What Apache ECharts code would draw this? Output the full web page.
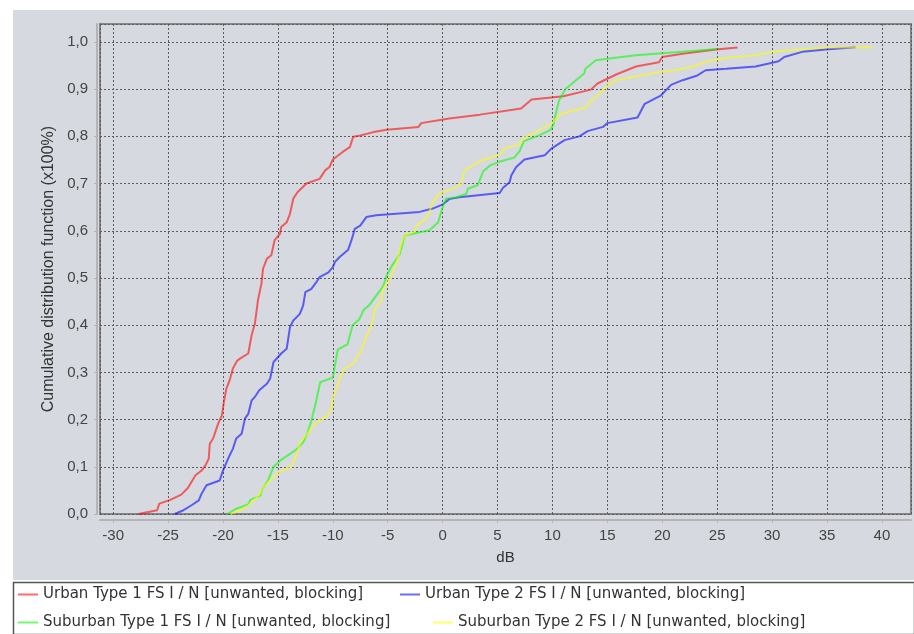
<!DOCTYPE html>
<html>
<head>
<meta charset="utf-8">
<script src="https://cdn.jsdelivr.net/npm/echarts@6/dist/echarts.min.js"></script>
<style>
html,body{margin:0;padding:0;background:#ffffff;}
#chart{width:914px;height:634px;}
</style>
</head>
<body>
<div id="chart"></div>
<script>
// ---- Data (dB, cumulative probability) ----
var seriesNames = [
  'Urban Type 1 FS I / N [unwanted, blocking]',
  'Urban Type 2 FS I / N [unwanted, blocking]',
  'Suburban Type 1 FS I / N [unwanted, blocking]',
  'Suburban Type 2 FS I / N [unwanted, blocking]'
];
var xAxisName = 'dB';
var yAxisName = 'Cumulative distribution function (x100%)';

var urbanType1 = [[-27.7,0],[-26.0,0.008],[-25.8,0.022],[-24.8,0.03],[-23.8,0.041],[-23.2,0.055],[-22.5,0.082],[-21.95,0.092],[-21.6,0.103],[-21.3,0.117],[-21.2,0.149],[-20.9,0.16],[-20.45,0.191],[-20.1,0.209],[-19.9,0.24],[-19.7,0.265],[-19.4,0.283],[-19.1,0.308],[-18.7,0.325],[-18.45,0.329],[-17.7,0.34],[-17.4,0.378],[-17.1,0.403],[-16.8,0.455],[-16.5,0.488],[-16.35,0.52],[-16.0,0.541],[-15.6,0.548],[-15.3,0.58],[-14.8,0.594],[-14.7,0.608],[-14.2,0.618],[-13.9,0.636],[-13.6,0.668],[-13.2,0.682],[-12.4,0.7],[-11.2,0.71],[-10.7,0.728],[-10.3,0.735],[-10.0,0.751],[-9.1,0.767],[-8.45,0.777],[-8.15,0.799],[-7.5,0.802],[-6.3,0.809],[-5.1,0.814],[-2.2,0.82],[-1.95,0.828],[0.6,0.838],[3.4,0.846],[7.15,0.859],[8.1,0.878],[11.0,0.885],[13.5,0.899],[14.1,0.912],[15.8,0.931],[17.6,0.948],[19.7,0.957],[20.0,0.968],[21.85,0.975],[24.9,0.984],[26.85,0.988]];

var urbanType2 = [[-24.4,0],[-23.6,0.008],[-22.9,0.018],[-22.2,0.029],[-21.95,0.043],[-21.5,0.061],[-20.3,0.071],[-20.0,0.092],[-19.8,0.103],[-19.4,0.124],[-19.1,0.138],[-18.8,0.16],[-18.3,0.17],[-18.0,0.202],[-17.7,0.212],[-17.4,0.24],[-17.1,0.248],[-16.7,0.262],[-16.0,0.276],[-15.7,0.287],[-15.4,0.322],[-15.0,0.332],[-14.7,0.34],[-14.2,0.35],[-13.9,0.396],[-13.6,0.41],[-13.0,0.424],[-12.7,0.442],[-12.5,0.47],[-11.95,0.477],[-11.5,0.491],[-11.2,0.502],[-10.4,0.512],[-10.0,0.523],[-9.8,0.534],[-9.4,0.544],[-8.6,0.56],[-8.3,0.58],[-8.0,0.604],[-7.5,0.611],[-6.95,0.629],[-6.05,0.633],[-2.1,0.64],[-0.9,0.647],[0.03,0.656],[0.6,0.667],[1.5,0.671],[5.2,0.68],[5.5,0.691],[6.1,0.703],[6.25,0.717],[6.7,0.735],[7.45,0.751],[9.3,0.76],[9.9,0.774],[11.1,0.792],[12.45,0.8],[13.2,0.811],[14.6,0.82],[15.0,0.828],[17.75,0.84],[18.4,0.869],[19.9,0.887],[20.8,0.909],[21.85,0.919],[23.2,0.929],[23.95,0.94],[25.8,0.943],[28.5,0.948],[30.6,0.959],[31.1,0.968],[32.75,0.979],[34.9,0.984],[37.6,0.989]];

var suburbanType1 = [[-19.6,0],[-18.9,0.01],[-17.7,0.02],[-17.5,0.03],[-16.6,0.039],[-16.4,0.054],[-15.9,0.071],[-15.4,0.1],[-14.8,0.113],[-13.3,0.137],[-12.7,0.152],[-12.3,0.172],[-11.95,0.198],[-11.65,0.226],[-11.5,0.241],[-11.15,0.279],[-10.0,0.289],[-9.55,0.348],[-8.65,0.36],[-8.2,0.4],[-7.6,0.412],[-7.2,0.432],[-6.7,0.442],[-6.2,0.458],[-5.4,0.483],[-5.1,0.505],[-4.7,0.523],[-4.2,0.54],[-3.9,0.551],[-3.45,0.59],[-1.2,0.601],[-0.4,0.618],[-0.1,0.643],[0.3,0.668],[1.25,0.671],[2.15,0.678],[2.3,0.689],[3.2,0.697],[3.7,0.726],[4.3,0.738],[5.0,0.745],[6.5,0.755],[7.0,0.768],[7.4,0.79],[8.8,0.802],[9.8,0.813],[10.1,0.825],[10.3,0.848],[10.6,0.876],[11.2,0.901],[11.8,0.912],[12.3,0.922],[12.9,0.933],[13.0,0.943],[13.95,0.961],[15.2,0.965],[17.6,0.972],[20.6,0.977],[21.85,0.979],[25.0,0.985]];

var suburbanType2 = [[-19.3,0],[-18.45,0.008],[-17.7,0.018],[-17.3,0.027],[-16.6,0.043],[-16.35,0.057],[-15.7,0.071],[-15.1,0.085],[-14.7,0.092],[-13.8,0.099],[-13.3,0.126],[-13.0,0.149],[-12.7,0.16],[-12.3,0.17],[-11.8,0.188],[-11.2,0.198],[-10.45,0.209],[-10.15,0.223],[-10.0,0.245],[-9.7,0.265],[-9.25,0.294],[-8.95,0.308],[-8.05,0.32],[-7.9,0.329],[-7.45,0.343],[-7.1,0.368],[-6.5,0.398],[-6.35,0.41],[-6.2,0.433],[-5.6,0.452],[-5.45,0.474],[-5.2,0.484],[-4.8,0.499],[-4.35,0.523],[-4.05,0.544],[-3.75,0.573],[-3.45,0.59],[-2.7,0.597],[-2.25,0.613],[-1.5,0.626],[-1.2,0.64],[-0.9,0.661],[-0.3,0.679],[0.6,0.686],[1.5,0.696],[1.7,0.7],[2.0,0.728],[3.5,0.749],[5.2,0.761],[5.6,0.774],[7.0,0.783],[7.45,0.799],[8.4,0.807],[9.1,0.818],[9.9,0.827],[10.8,0.848],[13.05,0.861],[13.4,0.874],[14.4,0.892],[14.9,0.906],[15.75,0.919],[17.6,0.927],[19.7,0.936],[21.85,0.943],[23.05,0.95],[24.1,0.959],[26.1,0.967],[28.5,0.972],[30.0,0.979],[32.45,0.984],[34.9,0.988],[39.1,0.989]];

var seriesData = [urbanType1, urbanType2, suburbanType1, suburbanType2];
var seriesColors = ['#ff0000', '#0000ff', '#00ff00', '#ffff00'];

// ---- Chart ----
var chart = echarts.init(document.getElementById('chart'), null, {renderer: 'canvas'});
var sansFont = '"Liberation Sans", Arial, sans-serif';
var legendFont = '"DejaVu Sans", Tahoma, sans-serif';

function isMultiple(v, step) {
  var r = v / step;
  return Math.abs(r - Math.round(r)) < 1e-6;
}

var series = seriesData.map(function (d, i) {
  return {
    name: seriesNames[i],
    type: 'line',
    data: d,
    showSymbol: false,
    symbol: 'none',
    animation: false,
    color: seriesColors[i],
    lineStyle: {width: 2, color: seriesColors[i], opacity: 0.58},
    itemStyle: {color: seriesColors[i], opacity: 0.58},
    z: 3
  };
});

var legendPos = [
  {left: 18, top: 587},
  {left: 400, top: 587},
  {left: 18, top: 615},
  {left: 433, top: 615}
];
var legends = seriesNames.map(function (n, i) {
  return {
    data: [{name: n, icon: 'rect'}],
    left: legendPos[i].left,
    top: legendPos[i].top,
    orient: 'horizontal',
    padding: 0,
    itemWidth: 20,
    itemHeight: 2,
    selectedMode: false,
    textStyle: {fontFamily: legendFont, fontSize: 15, color: '#333333'}
  };
});

var option = {
  backgroundColor: '#ffffff',
  animation: false,
  graphic: [
    {type: 'rect', z: -10, silent: true, shape: {x: 13, y: 10, width: 901, height: 570}, style: {fill: '#d6d9df'}},
    {type: 'rect', z: -10, silent: true, shape: {x: 13.5, y: 582.5, width: 901, height: 52}, style: {fill: '#ffffff', stroke: '#555555', lineWidth: 1.5}}
  ],
  legend: legends,
  grid: {
    left: 100, right: 3, top: 24, bottom: 120,
    show: true,
    backgroundColor: '#d6d9df',
    borderColor: '#858585',
    borderWidth: 2
  },
  xAxis: {
    type: 'value',
    min: -31.2,
    max: 42.65,
    splitNumber: 15,
    offset: 6,
    name: xAxisName,
    nameLocation: 'middle',
    nameGap: 30,
    nameTextStyle: {fontFamily: sansFont, fontSize: 15, color: '#333333'},
    axisLine: {show: true, onZero: false, lineStyle: {color: '#b4b4b4', width: 2}},
    axisTick: {show: true, length: 3, lineStyle: {color: '#b4b4b4'}},
    axisLabel: {
      margin: 8,
      fontFamily: sansFont, fontSize: 15, color: '#444444',
      showMinLabel: false, showMaxLabel: false,
      formatter: function (v) { return isMultiple(v, 5) ? String(Math.round(v)) : ''; }
    },
    splitLine: {show: true, lineStyle: {color: '#5c5c5c', width: 1, type: [2, 2]}}
  },
  yAxis: {
    type: 'value',
    min: 0,
    max: 1.038,
    splitNumber: 10,
    offset: 3,
    name: yAxisName,
    nameLocation: 'middle',
    nameGap: 40,
    nameRotate: 90,
    nameTextStyle: {fontFamily: sansFont, fontSize: 16, color: '#333333'},
    axisLine: {show: true, onZero: false, lineStyle: {color: '#b4b4b4', width: 2}},
    axisTick: {show: true, length: 3, lineStyle: {color: '#b4b4b4'}},
    axisLabel: {
      margin: 9,
      fontFamily: sansFont, fontSize: 15, color: '#444444',
      showMaxLabel: false,
      formatter: function (v) { return isMultiple(v, 0.1) ? v.toFixed(1).replace('.', ',') : ''; }
    },
    splitLine: {show: true, lineStyle: {color: '#5c5c5c', width: 1, type: [2, 2]}}
  },
  series: series
};
chart.setOption(option);
</script>
</body>
</html>
